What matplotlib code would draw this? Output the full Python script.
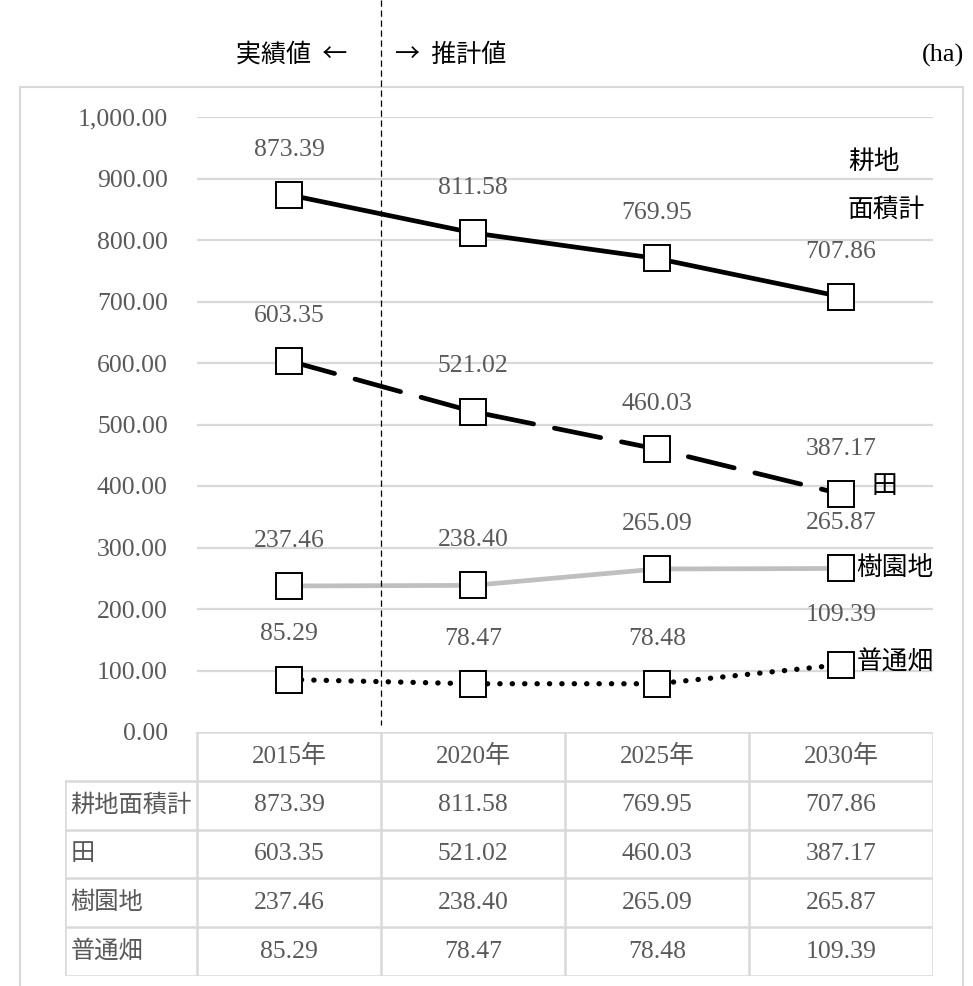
import numpy as np
import matplotlib
matplotlib.use("Agg")
import matplotlib.pyplot as plt
from matplotlib.patches import Rectangle
from matplotlib.lines import Line2D

plt.rcParams['font.family'] = ['Liberation Serif', 'Noto Sans CJK JP', 'DejaVu Sans']

# data
years = ["2015年", "2020年", "2025年", "2030年"]
series_names = ["耕地面積計", "田", "樹園地", "普通畑"]
total = [873.39, 811.58, 769.95, 707.86]
rice = [603.35, 521.02, 460.03, 387.17]
orchard = [237.46, 238.40, 265.09, 265.87]
field = [85.29, 78.47, 78.48, 109.39]
yticks = np.arange(0, 1001, 100)

W, H = 973, 986
fig = plt.figure(figsize=(W / 100, H / 100), dpi=100)

def fx(px):
    return px / W

def fy(py):
    return 1 - py / H

# outer frame
fig.patches.append(Rectangle((fx(20), fy(990)), fx(963) - fx(20), fy(87) - fy(990),
                             transform=fig.transFigure, fill=False,
                             edgecolor='#d9d9d9', linewidth=1.5))

# main plot
left, right, top, bottom = 197, 933, 117, 732
ax = fig.add_axes([fx(left), fy(bottom), fx(right) - fx(left), fy(top) - fy(bottom)])
ax.set_xlim(-0.5, 3.5)
ax.set_ylim(0, 1000)
for s in ax.spines.values():
    s.set_visible(False)
ax.set_xticks([])
ax.set_yticks(yticks)
ax.set_yticklabels([f"{v:,.2f}" for v in yticks], color='#595959', fontsize=18.5)
ax.tick_params(axis='y', length=0, pad=21)
for v in yticks[1:]:
    ax.axhline(v, color='#d9d9d9', lw=1.6, zorder=0)

x = np.arange(len(years))
mk = dict(marker='s', markersize=19, markerfacecolor='white',
          markeredgecolor='black', markeredgewidth=1.4)
ax.plot(x, total, color='black', lw=3.4, solid_capstyle='butt', **mk, zorder=3)
ax.plot(x, rice, color='black', lw=3.4, dashes=(10, 4.5), dash_capstyle='round', **mk, zorder=3)
ax.plot(x, orchard, color='#bfbfbf', lw=3.4, **mk, zorder=3)
ax.plot(x, field, color='black', lw=3.8, dashes=(0.05, 2.3), dash_capstyle='round', **mk, zorder=3)

for ser in [total, rice, orchard, field]:
    for i, v in enumerate(ser):
        off = 36 if v == 109.39 else 32.5
        ax.annotate(f"{v:.2f}", (i, v), xytext=(0, off), textcoords='offset points',
                    ha='center', va='center', fontsize=18.5, color='#595959',
                    annotation_clip=False)

# series names
lbl = dict(textcoords='offset points', va='center', ha='left', fontsize=18.5,
           color='black', annotation_clip=False)
ax.annotate("耕地", (3, total[3]), xytext=(5, 96.5), **lbl)
ax.annotate("面積計", (3, total[3]), xytext=(5, 62.5), **lbl)
ax.annotate("田", (3, rice[3]), xytext=(22, 5), **lbl)
ax.annotate("樹園地", (3, orchard[3]), xytext=(11, 0.5), **lbl)
ax.annotate("普通畑", (3, field[3]), xytext=(11, 1.5), **lbl)

# table
tb_left, tb_top, tb_bottom = 65, 732, 976
tax = fig.add_axes([fx(tb_left), fy(tb_bottom), fx(right) - fx(tb_left), fy(tb_top) - fy(tb_bottom)])
unit = (right - left) / 4
xl = -0.5 - (left - tb_left) / unit
tax.set_xlim(xl, 3.5)
tax.set_ylim(5, 0)
tax.axis('off')
gc = dict(color='#d9d9d9', lw=1.8, solid_capstyle='projecting')
tax.plot([-0.5, 3.5], [0, 0], **gc)
for r in range(1, 6):
    tax.plot([xl, 3.5], [r, r], **gc)
for c in np.arange(-0.5, 3.6, 1):
    tax.plot([c, c], [0, 5], **gc)
tax.plot([xl, xl], [1, 5], **gc)
for i, yr in enumerate(years):
    tax.text(i, 0.5, yr, ha='center', va='center', fontsize=18, color='#595959')
for r, (name, ser) in enumerate(zip(series_names, [total, rice, orchard, field]), start=1):
    tax.text(xl + 0.03, r + 0.5, name, ha='left', va='center', fontsize=17.5, color='#595959')
    for i, v in enumerate(ser):
        tax.text(i, r + 0.5, f"{v:.2f}", ha='center', va='center', fontsize=18.5, color='#595959')

# divider between actual and projected
fig.add_artist(Line2D([fx(381), fx(381)], [fy(0), fy(725)], transform=fig.transFigure,
                      color='black', lw=0.9, dashes=(5, 3)))
hdr = dict(va='center', fontsize=18, family=['Noto Sans CJK JP', 'DejaVu Sans'])
fig.text(fx(347), fy(55), "実績値  ←", ha='right', **hdr)
fig.text(fx(395), fy(55), "→  推計値", ha='left', **hdr)
fig.text(fx(964), fy(55), "(ha)", ha='right', va='center', fontsize=19)

fig.savefig("out.png", dpi=100)
